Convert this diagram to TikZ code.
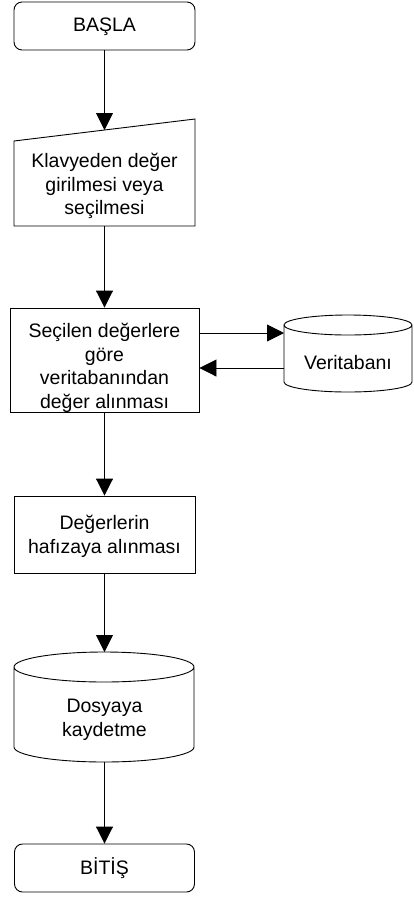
\documentclass[tikz,border=0pt]{standalone}
\usepackage{fontspec}
\setmainfont{Liberation Sans}
\usetikzlibrary{arrows.meta}
\begin{document}
\begin{tikzpicture}[x=1pt,y=1pt,
  txt/.style={font=\fontsize{19.5}{23.5}\selectfont, align=center, inner sep=0pt},
  ln/.style={line width=0.9pt, draw=black},
  arr/.style={ln, -{Triangle[length=17pt,width=17pt]}},
  boxn/.style={draw=black, line width=0.9pt, rectangle, inner sep=0pt},
]
\useasboundingbox (0,0) rectangle (413,-898);
% start
\node[boxn, rounded corners=8pt, minimum width=181pt, minimum height=48pt] (start) at (104.5,-26) {};
\node[txt] (startT) at (104.5,-27) {BAŞLA};
% manual input
\coordinate (inTop) at (104.5,-130);
\coordinate (inBot) at (104.5,-226);
\draw[ln] (14,-141) -- (195,-119) -- (195,-226) -- (14,-226) -- cycle;
\node[txt] (inT) at (104.5,-186) {Klavyeden değer\\girilmesi veya\\seçilmesi};
% process
\node[boxn, minimum width=189pt, minimum height=104pt] (proc) at (104.5,-360) {};
\node[txt] (procT) at (104.5,-368) {Seçilen değerlere\\göre\\veritabanından\\değer alınması};
% database
\draw[ln] (284,-325) -- (284,-382) arc[start angle=180, end angle=360, x radius=64, y radius=10]
  -- (412,-325) arc[start angle=0, end angle=180, x radius=64, y radius=10]
  arc[start angle=180, end angle=360, x radius=64, y radius=10];
\node[txt] (dbT) at (348,-363) {Veritabanı};
\coordinate (dbIn) at (284,-333);
\coordinate (dbOut) at (284,-368);
% memory
\node[boxn, minimum width=181pt, minimum height=77pt] (mem) at (104.5,-534.5) {};
\node[txt] (memT) at (104.5,-536.5) {Değerlerin\\hafızaya alınması};
% file cylinder
\draw[ln] (14,-667) -- (14,-747) arc[start angle=180, end angle=360, x radius=90, y radius=15]
  -- (194,-667) arc[start angle=0, end angle=180, x radius=90, y radius=15]
  arc[start angle=180, end angle=360, x radius=90, y radius=15];
\node[txt] (fileT) at (104.5,-720) {Dosyaya\\kaydetme};
\coordinate (fileTop) at (104.5,-652);
\coordinate (fileBot) at (104.5,-762);
% end
\node[boxn, rounded corners=8pt, minimum width=180pt, minimum height=48pt] (end) at (104.5,-868) {};
\node[txt] (endT) at (104.5,-868) {BİTİŞ};
% connectors
\draw[arr] (start.south) -- (inTop);
\draw[arr] (inBot) -- (proc.north);
\draw[arr] (proc.east |- dbIn) -- (dbIn);
\draw[arr] (dbOut) -- (proc.east |- dbOut);
\draw[arr] (proc.south) -- (mem.north);
\draw[arr] (mem.south) -- (fileTop);
\draw[arr] (fileBot) -- (end.north);
\end{tikzpicture}
\end{document}
